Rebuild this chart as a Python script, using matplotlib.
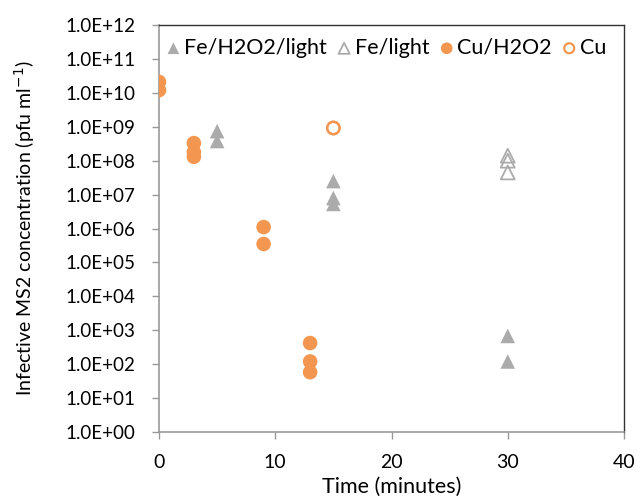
import matplotlib.pyplot as plt
from matplotlib.ticker import FixedLocator, NullLocator

# ==========================================================
# Data
# ==========================================================

fe_h2o2_light_t = [5, 5, 15, 15, 15, 30, 30]
fe_h2o2_light_c = [7.4e8, 3.8e8, 2.5e7, 7.9e6, 5.3e6, 6.8e2, 1.2e2]

fe_light_t = [30, 30, 30]
fe_light_c = [1.4e8, 1.0e8, 4.5e7]

cu_h2o2_t = [0, 0, 3, 3, 3, 9, 9, 13, 13, 13]
cu_h2o2_c = [2.1e10, 1.2e10, 3.3e8, 1.8e8, 1.3e8, 1.1e6, 3.5e5, 4.2e2, 1.2e2, 5.8e1]

cu_t = [15, 15]
cu_c = [9.1e8, 9.3e8]

y_ticks = [10.0 ** k for k in range(0, 13)]
y_labels = ["1.0E+%02d" % k for k in range(0, 13)]
x_ticks = [0, 10, 20, 30, 40]

ORANGE = "#F29650"
GREY = "#ABABAB"

plt.rcParams["font.family"] = ["Lato", "DejaVu Sans"]

# ==========================================================
# Figure
# ==========================================================

fig = plt.figure(figsize=(6.4, 4.98), dpi=100)
ax = fig.add_axes([159 / 640, 1 - 432 / 498, (624 - 159) / 640, (432 - 25) / 498])

ax.scatter(fe_h2o2_light_t, fe_h2o2_light_c, marker="^", s=110,
           color=GREY, edgecolor="none", label="Fe/H2O2/light", zorder=3)
ax.scatter(fe_light_t, fe_light_c, marker="^", s=100, facecolor="none",
           edgecolor=GREY, linewidth=1.3, label="Fe/light", zorder=3)
ax.scatter(cu_h2o2_t, cu_h2o2_c, marker="o", s=110, color=ORANGE,
           edgecolor="none", label="Cu/H2O2", zorder=4)
ax.scatter(cu_t, cu_c, marker="o", s=80, facecolor="none",
           edgecolor=ORANGE, linewidth=1.6, label="Cu", zorder=4)

ax.set_yscale("log")
ax.set_ylim(1, 1e12)
ax.set_xlim(0, 40)
ax.yaxis.set_major_locator(FixedLocator(y_ticks))
ax.yaxis.set_minor_locator(NullLocator())
ax.set_yticklabels(y_labels)
ax.set_xticks(x_ticks)

ax.tick_params(axis="both", colors="#999999", labelcolor="black",
               length=5, width=1)
ax.tick_params(axis="y", labelsize=13.5, pad=12)
ax.tick_params(axis="x", labelsize=14, pad=11)

for side in ["left", "bottom"]:
    ax.spines[side].set_color("#999999")
    ax.spines[side].set_linewidth(1.2)
for side in ["top", "right"]:
    ax.spines[side].set_color("#333333")
    ax.spines[side].set_linewidth(1.0)

ax.set_xlabel("Time (minutes)", fontsize=15.5, labelpad=4)
ax.set_ylabel("Infective MS2 concentration (pfu ml$^{-1}$)", fontsize=14,
              labelpad=20)

ax.legend(loc="upper left", bbox_to_anchor=(-0.02, 1.0), ncol=4, frameon=False,
          fontsize=15.5, handletextpad=0.0, columnspacing=0.3,
          borderaxespad=0.2, handlelength=1.0, markerscale=0.8)

plt.savefig("out.png", dpi=100)
plt.close()
